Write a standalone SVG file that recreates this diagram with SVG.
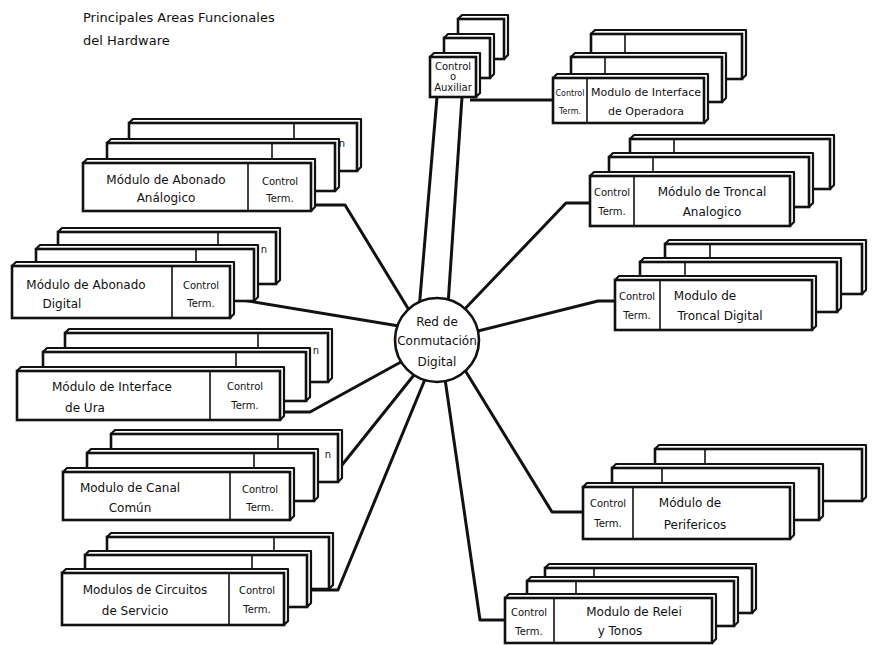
<svg xmlns="http://www.w3.org/2000/svg" width="873" height="645" viewBox="0 0 873 645">
<style>
.th{fill:#fff;stroke:#111;stroke-width:2.2;stroke-linejoin:round}
.bx{fill:#fff;stroke:#111;stroke-width:2.6}
.dv{stroke:#111;stroke-width:1.6}
.cn{fill:none;stroke:#111;stroke-width:3;stroke-linejoin:round}
.t{font-family:"DejaVu Sans","Liberation Sans",sans-serif;font-size:12px;fill:#111;text-anchor:middle}
.s{font-family:"DejaVu Sans","Liberation Sans",sans-serif;font-size:10px;fill:#111;text-anchor:middle}
.xs{font-family:"DejaVu Sans","Liberation Sans",sans-serif;font-size:8px;fill:#111;text-anchor:middle}
.ti{font-family:"DejaVu Sans","Liberation Sans",sans-serif;font-size:13px;fill:#111}
</style>
<text class="ti" x="83" y="22">Principales Areas Funcionales</text>
<text class="ti" x="83" y="45">del   Hardware</text>

<g id="connectors">
<path class="cn" d="M437,97 L419,310"/>
<path class="cn" d="M462,97 L448,305"/>
<path class="cn" d="M470,100 H553"/>
<path class="cn" d="M311,205 H345 L412,315"/>
<path class="cn" d="M230,298 L405,327"/>
<path class="cn" d="M280,412 H310 L410,357"/>
<path class="cn" d="M338,470 L418,370"/>
<path class="cn" d="M284,590 H338 L428,372"/>
<path class="cn" d="M460,314 L566,203 H590"/>
<path class="cn" d="M470,333 L598,301 H615"/>
<path class="cn" d="M460,362 L552,512 H583"/>
<path class="cn" d="M444,372 L480,620 H505"/>
</g>

<g id="center">
<circle cx="437" cy="340" r="42" fill="#fff" stroke="#111" stroke-width="2.6"/>
<text class="t" x="437" y="326">Red de</text>
<text class="t" x="437" y="345">Conmutación</text>
<text class="t" x="437" y="366">Digital</text>
</g>

<g id="control-auxiliar">
<g transform="translate(458,19)"><polygon class="th" points="0,0 4,-4 50,-4 50,36 46,40"/><rect class="bx" width="46" height="40"/></g>
<g transform="translate(444,38)"><polygon class="th" points="0,0 4,-4 50,-4 50,36 46,40"/><rect class="bx" width="46" height="40"/></g>
<g transform="translate(430,57)"><polygon class="th" points="0,0 4,-4 50,-4 50,36 46,40"/><rect class="bx" width="46" height="40"/></g>
<text class="s" x="453" y="70">Control</text>
<text class="s" x="453" y="80">o</text>
<text class="s" x="453" y="91">Auxiliar</text>
</g>

<g id="mod-abonado-analogico">
<g transform="translate(129,123)"><polygon class="th" points="0,0 4,-4 232,-4 232,44 228,48"/><rect class="bx" width="228" height="48"/><line class="dv" x1="165" y1="0" x2="165" y2="48"/></g>
<g transform="translate(107,143)"><polygon class="th" points="0,0 4,-4 232,-4 232,44 228,48"/><rect class="bx" width="228" height="48"/><line class="dv" x1="165" y1="0" x2="165" y2="48"/></g>
<g transform="translate(83,163)"><polygon class="th" points="0,0 4,-4 232,-4 232,44 228,48"/><rect class="bx" width="228" height="48"/><line class="dv" x1="165" y1="0" x2="165" y2="48"/></g>
<text class="s" x="342" y="147">n</text>
<text class="t" x="166" y="184">Módulo de Abonado</text>
<text class="t" x="166" y="202">Análogico</text>
<text class="s" x="280" y="185">Control</text>
<text class="s" x="280" y="202">Term.</text>
</g>

<g id="mod-abonado-digital">
<g transform="translate(58,232)"><polygon class="th" points="0,0 4,-4 222,-4 222,48 218,52"/><rect class="bx" width="218" height="52"/><line class="dv" x1="160" y1="0" x2="160" y2="52"/></g>
<g transform="translate(36,249)"><polygon class="th" points="0,0 4,-4 222,-4 222,48 218,52"/><rect class="bx" width="218" height="52"/><line class="dv" x1="160" y1="0" x2="160" y2="52"/></g>
<g transform="translate(12,266)"><polygon class="th" points="0,0 4,-4 222,-4 222,48 218,52"/><rect class="bx" width="218" height="52"/><line class="dv" x1="160" y1="0" x2="160" y2="52"/></g>
<text class="s" x="264" y="253">n</text>
<text class="t" x="86" y="289">Módulo de Abonado</text>
<text class="t" x="62" y="308">Digital</text>
<text class="s" x="201" y="289">Control</text>
<text class="s" x="201" y="307">Term.</text>
</g>

<g id="mod-interface-ura">
<g transform="translate(65,333)"><polygon class="th" points="0,0 4,-4 267,-4 267,45 263,49"/><rect class="bx" width="263" height="49"/><line class="dv" x1="193" y1="0" x2="193" y2="49"/></g>
<g transform="translate(43,352)"><polygon class="th" points="0,0 4,-4 267,-4 267,45 263,49"/><rect class="bx" width="263" height="49"/><line class="dv" x1="193" y1="0" x2="193" y2="49"/></g>
<g transform="translate(17,371)"><polygon class="th" points="0,0 4,-4 267,-4 267,45 263,49"/><rect class="bx" width="263" height="49"/><line class="dv" x1="193" y1="0" x2="193" y2="49"/></g>
<text class="s" x="316" y="354">n</text>
<text class="t" x="112" y="391">Módulo de Interface</text>
<text class="t" x="85" y="412">de Ura</text>
<text class="s" x="245" y="390">Control</text>
<text class="s" x="245" y="409">Term.</text>
</g>

<g id="mod-canal-comun">
<g transform="translate(111,434)"><polygon class="th" points="0,0 4,-4 231,-4 231,44 227,48"/><rect class="bx" width="227" height="48"/><line class="dv" x1="167" y1="0" x2="167" y2="48"/></g>
<g transform="translate(87,453)"><polygon class="th" points="0,0 4,-4 231,-4 231,44 227,48"/><rect class="bx" width="227" height="48"/><line class="dv" x1="167" y1="0" x2="167" y2="48"/></g>
<g transform="translate(63,472)"><polygon class="th" points="0,0 4,-4 231,-4 231,44 227,48"/><rect class="bx" width="227" height="48"/><line class="dv" x1="167" y1="0" x2="167" y2="48"/></g>
<text class="s" x="328" y="458">n</text>
<text class="t" x="130" y="492">Modulo de Canal</text>
<text class="t" x="130" y="512">Común</text>
<text class="s" x="260" y="493">Control</text>
<text class="s" x="260" y="511">Term.</text>
</g>

<g id="mod-circuitos-servicio">
<g transform="translate(107,537)"><polygon class="th" points="0,0 4,-4 226,-4 226,48 222,52"/><rect class="bx" width="222" height="52"/><line class="dv" x1="167" y1="0" x2="167" y2="52"/></g>
<g transform="translate(85,555)"><polygon class="th" points="0,0 4,-4 226,-4 226,48 222,52"/><rect class="bx" width="222" height="52"/><line class="dv" x1="167" y1="0" x2="167" y2="52"/></g>
<g transform="translate(62,573)"><polygon class="th" points="0,0 4,-4 226,-4 226,48 222,52"/><rect class="bx" width="222" height="52"/><line class="dv" x1="167" y1="0" x2="167" y2="52"/></g>
<text class="t" x="145" y="594">Modulos de Circuitos</text>
<text class="t" x="135" y="615">de Servicio</text>
<text class="s" x="257" y="594">Control</text>
<text class="s" x="257" y="613">Term.</text>
</g>

<g id="mod-interface-operadora">
<g transform="translate(591,34)"><polygon class="th" points="0,0 4,-4 155,-4 155,41 151,45"/><rect class="bx" width="151" height="45"/><line class="dv" x1="34" y1="0" x2="34" y2="45"/></g>
<g transform="translate(571,57)"><polygon class="th" points="0,0 4,-4 155,-4 155,41 151,45"/><rect class="bx" width="151" height="45"/><line class="dv" x1="34" y1="0" x2="34" y2="45"/></g>
<g transform="translate(553,78)"><polygon class="th" points="0,0 4,-4 155,-4 155,41 151,45"/><rect class="bx" width="151" height="45"/><line class="dv" x1="34" y1="0" x2="34" y2="45"/></g>
<text class="xs" x="570" y="96">Control</text>
<text class="xs" x="570" y="114">Term.</text>
<text class="t" x="646" y="96" style="font-size:11px">Modulo de Interface</text>
<text class="t" x="646" y="115" style="font-size:11px">de Operadora</text>
</g>

<g id="mod-troncal-analogico">
<g transform="translate(630,139)"><polygon class="th" points="0,0 4,-4 204,-4 204,46 200,50"/><rect class="bx" width="200" height="50"/><line class="dv" x1="44" y1="0" x2="44" y2="50"/></g>
<g transform="translate(609,157)"><polygon class="th" points="0,0 4,-4 204,-4 204,46 200,50"/><rect class="bx" width="200" height="50"/><line class="dv" x1="44" y1="0" x2="44" y2="50"/></g>
<g transform="translate(590,176)"><polygon class="th" points="0,0 4,-4 204,-4 204,46 200,50"/><rect class="bx" width="200" height="50"/><line class="dv" x1="44" y1="0" x2="44" y2="50"/></g>
<text class="s" x="612" y="196">Control</text>
<text class="s" x="612" y="215">Term.</text>
<text class="t" x="712" y="196">Módulo de Troncal</text>
<text class="t" x="712" y="216">Analogico</text>
</g>

<g id="mod-troncal-digital">
<g transform="translate(665,244)"><polygon class="th" points="0,0 4,-4 201,-4 201,46 197,50"/><rect class="bx" width="197" height="50"/><line class="dv" x1="45" y1="0" x2="45" y2="50"/></g>
<g transform="translate(640,262)"><polygon class="th" points="0,0 4,-4 201,-4 201,46 197,50"/><rect class="bx" width="197" height="50"/><line class="dv" x1="45" y1="0" x2="45" y2="50"/></g>
<g transform="translate(615,280)"><polygon class="th" points="0,0 4,-4 201,-4 201,46 197,50"/><rect class="bx" width="197" height="50"/><line class="dv" x1="45" y1="0" x2="45" y2="50"/></g>
<text class="s" x="637" y="300">Control</text>
<text class="s" x="637" y="319">Term.</text>
<text class="t" x="705" y="300">Modulo de</text>
<text class="t" x="720" y="320">Troncal Digital</text>
</g>

<g id="mod-perifericos">
<g transform="translate(655,449)"><polygon class="th" points="0,0 4,-4 211,-4 211,48 207,52"/><rect class="bx" width="207" height="52"/><line class="dv" x1="50" y1="0" x2="50" y2="52"/></g>
<g transform="translate(612,468)"><polygon class="th" points="0,0 4,-4 211,-4 211,48 207,52"/><rect class="bx" width="207" height="52"/><line class="dv" x1="50" y1="0" x2="50" y2="52"/></g>
<g transform="translate(583,487)"><polygon class="th" points="0,0 4,-4 211,-4 211,48 207,52"/><rect class="bx" width="207" height="52"/><line class="dv" x1="50" y1="0" x2="50" y2="52"/></g>
<text class="s" x="608" y="507">Control</text>
<text class="s" x="608" y="527">Term.</text>
<text class="t" x="690" y="507">Módulo de</text>
<text class="t" x="695" y="529">Perifericos</text>
</g>

<g id="mod-relei-tonos">
<g transform="translate(545,568)"><polygon class="th" points="0,0 4,-4 211,-4 211,41 207,45"/><rect class="bx" width="207" height="45"/><line class="dv" x1="49" y1="0" x2="49" y2="45"/></g>
<g transform="translate(527,581)"><polygon class="th" points="0,0 4,-4 211,-4 211,41 207,45"/><rect class="bx" width="207" height="45"/><line class="dv" x1="49" y1="0" x2="49" y2="45"/></g>
<g transform="translate(505,598)"><polygon class="th" points="0,0 4,-4 211,-4 211,41 207,45"/><rect class="bx" width="207" height="45"/><line class="dv" x1="49" y1="0" x2="49" y2="45"/></g>
<text class="s" x="529" y="616">Control</text>
<text class="s" x="529" y="635">Term.</text>
<text class="t" x="634" y="616">Modulo de Relei</text>
<text class="t" x="620" y="635">y Tonos</text>
</g>
</svg>
